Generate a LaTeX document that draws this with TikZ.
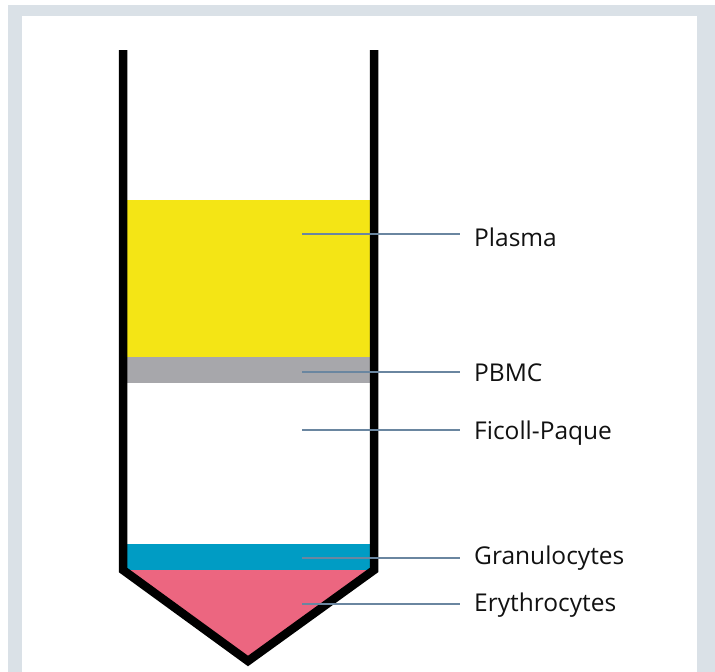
\documentclass[tikz,border=0pt]{standalone}
\usepackage{fontspec}
\setmainfont{Open Sans}
\usetikzlibrary{positioning}
\definecolor{frameA}{HTML}{DAE1E7}
\definecolor{plasmaA}{HTML}{F4E515}
\definecolor{pbmcA}{HTML}{A7A7AB}
\definecolor{granA}{HTML}{009CC4}
\definecolor{eryA}{HTML}{EC6680}
\definecolor{leadA}{HTML}{6A86A0}
\definecolor{ink}{HTML}{111111}
\tikzset{
  layer/.style={draw=none},
  tubewall/.style={draw=black, line width=8.5pt, line join=miter},
  lead/.style={draw=leadA, line width=1.8pt},
  tag/.style={font=\fontsize{24.5}{28}\selectfont, text=ink, anchor=west, inner sep=0pt}
}

\begin{document}
\begin{tikzpicture}[x=1pt,y=-1pt]
\useasboundingbox (0,0) rectangle (715,672);

% frame
\fill[frameA] (8,5) rectangle (715,672);
\fill[white] (22,16) rectangle (697,672);

% layers
\fill[plasmaA] (127,200) rectangle (370,357);
\fill[pbmcA] (127,357) rectangle (370,383);
\fill[granA] (127,544) rectangle (370,570);
\fill[eryA] (127,570) -- (370,570) -- (248,657) -- cycle;

% tube
\draw[tubewall] (123,50) -- (123,570) -- (248,661) -- (374,570) -- (374,50);

% labels
\node[tag] (plasma) at (474,237) {Plasma};
\node[tag] (pbmc) at (474,373) {PBMC};
\node[tag] (ficoll) at (474,433) {Ficoll-Paque};
\node[tag] (gran) at (474,558) {Granulocytes};
\node[tag] (ery) at (474,605) {Erythrocytes};

\coordinate (plasmaP) at (302,234);
\coordinate (pbmcP) at (302,372);
\coordinate (ficollP) at (302,430);
\coordinate (granP) at (302,558);
\coordinate (eryP) at (302,604);

\draw[lead] (plasmaP) -- (plasmaP -| 460,0);
\draw[lead] (pbmcP) -- (pbmcP -| 460,0);
\draw[lead] (ficollP) -- (ficollP -| 460,0);
\draw[lead] (granP) -- (granP -| 460,0);
\draw[lead] (eryP) -- (eryP -| 460,0);

\end{tikzpicture}
\end{document}
